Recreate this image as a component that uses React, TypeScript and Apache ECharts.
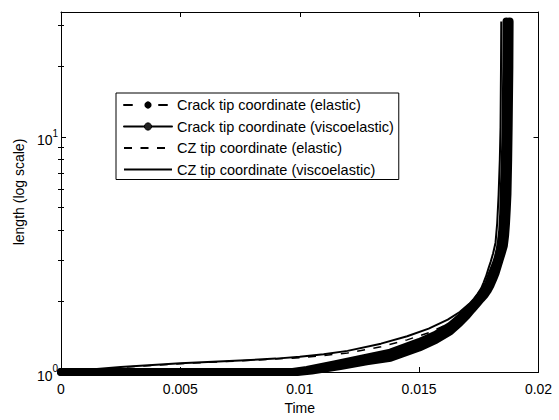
import React, { useEffect, useRef } from "react";
import * as echarts from "echarts";

const FONT = "'Liberation Sans', Arial, Helvetica, sans-serif";

const seriesNames = [
  "Crack tip coordinate (elastic)",
  "Crack tip coordinate (viscoelastic)",
  "CZ tip coordinate (elastic)",
  "CZ tip coordinate (viscoelastic)",
];

// Crack tip coordinate (elastic)
const crackElasticT = [0, 0.0099, 0.0105, 0.0117, 0.0128, 0.0138, 0.015, 0.0157, 0.0163, 0.0167, 0.017, 0.0172, 0.0174, 0.0176, 0.01775, 0.01787, 0.018, 0.0181, 0.0182, 0.01835, 0.01845, 0.01855, 0.0186, 0.01864, 0.01867, 0.0187, 0.01873, 0.01875, 0.01878, 0.01879];
const crackElasticL = [1, 1, 1.015, 1.06, 1.11, 1.15, 1.27, 1.37, 1.49, 1.62, 1.74, 1.84, 1.94, 2.05, 2.13, 2.22, 2.35, 2.48, 2.63, 2.95, 3.18, 3.45, 3.8, 4.3, 4.9, 5.7, 8, 11, 20, 31];

// Crack tip coordinate (viscoelastic)
const crackViscoT = [0, 0.0097, 0.0103, 0.0115, 0.0126, 0.0138, 0.015, 0.0157, 0.0163, 0.0167, 0.01707, 0.0174, 0.0177, 0.0179, 0.018, 0.0181, 0.01822, 0.0183, 0.01837, 0.01843, 0.01848, 0.01852, 0.01854, 0.01859, 0.01862, 0.01865, 0.01866];
const crackViscoL = [1, 1, 1.02, 1.08, 1.14, 1.21, 1.34, 1.44, 1.57, 1.7, 1.84, 2.0, 2.2, 2.38, 2.55, 2.7, 2.9, 3.08, 3.3, 3.6, 4.0, 4.7, 5.7, 8, 11, 20, 31];

// CZ tip coordinate (elastic)
const czElasticT = [0, 0.0025, 0.005, 0.0075, 0.01, 0.011, 0.012, 0.0134, 0.0145, 0.0154, 0.0162, 0.0167, 0.0171, 0.01745, 0.0176, 0.0178, 0.018, 0.0181, 0.0183, 0.01842, 0.01849, 0.01853, 0.01856, 0.01858];
const czElasticL = [1.0, 1.045, 1.085, 1.115, 1.15, 1.175, 1.205, 1.28, 1.37, 1.47, 1.6, 1.72, 1.86, 2.03, 2.16, 2.36, 2.6, 2.85, 3.5, 4.5, 6, 9, 15, 31];

// CZ tip coordinate (viscoelastic)
const czViscoT = [0, 0.001, 0.0025, 0.005, 0.0075, 0.009, 0.01, 0.011, 0.012, 0.0134, 0.0145, 0.0154, 0.0162, 0.0167, 0.0171, 0.0173, 0.01745, 0.0176, 0.0177, 0.0178, 0.0179, 0.018, 0.0181, 0.0182, 0.01827, 0.01833, 0.01838, 0.01841, 0.01843, 0.01844];
const czViscoL = [1.0, 1.02, 1.05, 1.09, 1.12, 1.14, 1.16, 1.19, 1.23, 1.32, 1.42, 1.53, 1.67, 1.8, 1.95, 2.05, 2.15, 2.27, 2.4, 2.55, 2.75, 2.95, 3.2, 3.55, 4.3, 5.7, 8, 11, 20, 31];

const xMin = 0;
const xMax = 0.02;
const xInterval = 0.005;
const yMin = 1;
const yMax = 34;
const yMajorTicks = [1, 10];
const yMinorTicks = [2, 3, 4, 5, 6, 7, 8, 9, 20, 30];

const zip = (t: number[], v: number[]) => t.map((x, i) => [x, v[i]]);

export default function App() {
  const ref = useRef<HTMLDivElement>(null);
  useEffect(() => {
    if (!ref.current) return;
    const chart = echarts.init(ref.current, null, { renderer: "svg" });
    const grid = { left: 61, right: 20.5, top: 12, bottom: 37 };
    const tickStyle = { color: "#000", width: 1 };
    const baseY = {
      type: "log" as const,
      logBase: 10,
      min: yMin,
      max: yMax,
      splitLine: { show: false },
      minorTick: { show: false },
    };
    const option: any = {
      animation: false,
      backgroundColor: "#fff",
      textStyle: { fontFamily: FONT },
      grid,
      legend: {
        orient: "vertical",
        left: 116,
        top: 93,
        padding: [4, 5, 2, 7],
        itemWidth: 48,
        itemHeight: 9,
        itemGap: 5.5,
        borderColor: "#000",
        borderWidth: 1,
        backgroundColor: "#fff",
        selectedMode: false,
        textStyle: { fontFamily: FONT, fontSize: 14.5, color: "#000", lineHeight: 16 },
        data: [
          { name: seriesNames[0], lineStyle: { width: 2, type: [8, 27], color: "#000" }, itemStyle: { color: "#000" } },
          { name: seriesNames[1], lineStyle: { width: 2, type: "solid", color: "#000" }, itemStyle: { color: "#222", borderColor: "#000", borderWidth: 1 } },
          { name: seriesNames[2], lineStyle: { width: 2, type: [8, 8.5], color: "#000" }, itemStyle: { opacity: 0 } },
          { name: seriesNames[3], lineStyle: { width: 2, type: "solid", color: "#000" }, itemStyle: { opacity: 0 } },
        ],
      },
      xAxis: [
        {
          type: "value",
          min: xMin,
          max: xMax,
          interval: xInterval,
          position: "bottom",
          name: "Time",
          nameLocation: "middle",
          nameGap: 29,
          nameTextStyle: { fontFamily: FONT, fontSize: 14, color: "#000" },
          axisLine: { show: true, onZero: false, lineStyle: { color: "#000", width: 1 } },
          axisTick: { show: true, inside: true, length: 5, lineStyle: tickStyle },
          axisLabel: { show: true, fontFamily: FONT, fontSize: 14, color: "#000", margin: 10 },
          splitLine: { show: false },
        },
        {
          type: "value",
          min: xMin,
          max: xMax,
          interval: xInterval,
          position: "top",
          axisLine: { show: true, onZero: false, lineStyle: { color: "#000", width: 1 } },
          axisTick: { show: true, inside: true, length: 5, lineStyle: tickStyle },
          axisLabel: { show: false },
          splitLine: { show: false },
        },
      ],
      yAxis: [
        {
          ...baseY,
          position: "left",
          name: "length (log scale)",
          nameLocation: "middle",
          nameGap: 34,
          nameTextStyle: { fontFamily: FONT, fontSize: 14, color: "#000" },
          axisLine: { show: true, onZero: false, lineStyle: { color: "#000", width: 1 } },
          axisTick: { show: true, inside: true, length: 5, lineStyle: tickStyle, customValues: yMajorTicks },
          axisLabel: {
            show: true,
            margin: 3,
            customValues: yMajorTicks,
            formatter: (v: number) => {
              const e = Math.log10(v);
              if (Math.abs(e - Math.round(e)) > 1e-6) return "";
              return `{b|10}{s|${Math.round(e)}}`;
            },
            rich: {
              b: { fontFamily: FONT, fontSize: 14, color: "#000", padding: [7, 0, 0, 0] },
              s: { fontFamily: FONT, fontSize: 10, color: "#000", padding: [0, 0, 7, 0] },
            },
          },
        },
        {
          ...baseY,
          position: "right",
          axisLine: { show: true, onZero: false, lineStyle: { color: "#000", width: 1 } },
          axisTick: { show: true, inside: true, length: 5, lineStyle: tickStyle, customValues: yMajorTicks },
          axisLabel: { show: false },
        },
        {
          ...baseY,
          position: "left",
          axisLine: { show: false },
          axisTick: { show: true, inside: true, length: 3, lineStyle: tickStyle, customValues: yMinorTicks },
          axisLabel: { show: false },
        },
        {
          ...baseY,
          position: "right",
          axisLine: { show: false },
          axisTick: { show: true, inside: true, length: 3, lineStyle: tickStyle, customValues: yMinorTicks },
          axisLabel: { show: false },
        },
      ],
      series: [
        {
          name: seriesNames[0],
          type: "line",
          data: zip(crackElasticT, crackElasticL),
          symbol: "circle",
          showSymbol: false,
          clip: false,
          silent: true,
          lineStyle: { width: 8, color: "#000", cap: "round", join: "round" },
          itemStyle: { color: "#000" },
          z: 2,
        },
        {
          name: seriesNames[1],
          type: "line",
          data: zip(crackViscoT, crackViscoL),
          symbol: "circle",
          showSymbol: false,
          clip: false,
          silent: true,
          lineStyle: { width: 8, color: "#000", cap: "round", join: "round" },
          itemStyle: { color: "#000" },
          z: 3,
        },
        {
          name: seriesNames[2],
          type: "line",
          data: zip(czElasticT, czElasticL),
          symbol: "none",
          clip: false,
          silent: true,
          lineStyle: { width: 1.5, color: "#000", type: [8, 8.5] },
          itemStyle: { color: "#000" },
          z: 4,
        },
        {
          name: seriesNames[3],
          type: "line",
          data: zip(czViscoT, czViscoL),
          symbol: "none",
          clip: false,
          silent: true,
          lineStyle: { width: 2, color: "#000", join: "round" },
          itemStyle: { color: "#000" },
          z: 5,
        },
      ],
    };
    chart.setOption(option);
    return () => chart.dispose();
  }, []);
  return (
    <div
      ref={ref}
      style={{ position: "absolute", left: 0, top: 0, width: 559, height: 420, background: "#fff" }}
    />
  );
}
